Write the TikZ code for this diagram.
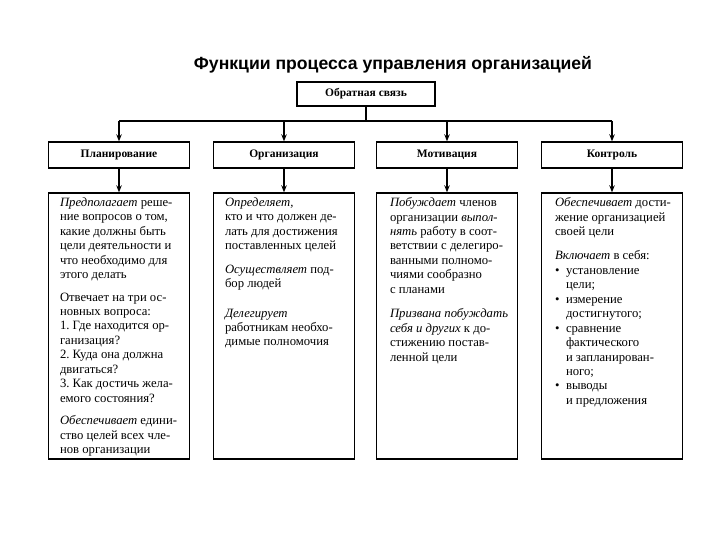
\documentclass[tikz,border=0pt]{standalone}
\usepackage{fontspec}
\setmainfont{Liberation Serif}
\newfontfamily\titlefont{Liberation Sans}
\usetikzlibrary{arrows.meta}
\newcommand{\bul}{\makebox[11pt][l]{\textbullet}}
\newcommand{\ind}{\hspace*{11pt}}
\frenchspacing
\begin{document}
\begin{tikzpicture}[x=1pt,y=-1pt,
  box/.style={draw, line width=1.4pt, inner sep=0pt},
  headbox/.style={box, minimum width=141pt, minimum height=26pt, font=\bfseries\fontsize{11.5}{13}\selectfont},
  bodybox/.style={box, minimum width=141pt, minimum height=266pt},
  txt/.style={anchor=north west, align=left, inner sep=0pt, font=\frenchspacing\fontsize{12.7}{14.45}\selectfont},
  arr/.style={line width=1.1pt, -{Stealth[length=7pt,width=5.5pt]}},
  ln/.style={line width=1.1pt}]
\fill[white] (0,0) rectangle (720,540);
\useasboundingbox (0,0) rectangle (720,540);

\node[anchor=base, inner sep=0pt, font=\titlefont\bfseries\fontsize{17.6}{20}\selectfont] (title) at (393,70) {Функции процесса управления организацией};

\node[box, minimum width=138pt, minimum height=24pt, font=\bfseries\fontsize{11.5}{13}\selectfont] (fb) at (366,94) {Обратная связь};

\node[headbox] (h1) at (119,155) {Планирование};
\node[headbox] (h2) at (284,155) {Организация};
\node[headbox] (h3) at (447,155) {Мотивация};
\node[headbox] (h4) at (612,155) {Контроль};

\node[bodybox] (b1) at (119,326) {};
\node[bodybox] (b2) at (284,326) {};
\node[bodybox] (b3) at (447,326) {};
\node[bodybox] (b4) at (612,326) {};

\coordinate (j) at (366,121);
\draw[ln] (fb.south) -- (j);
\draw[ln] (h1.north |- j) -- (h4.north |- j);
\foreach \i in {1,2,3,4}{
  \draw[arr] (h\i.north |- j) -- (h\i.north);
  \draw[arr] (h\i.south) -- (b\i.north);
}

\node[txt] (t1) at ([shift={(12,5)}]b1.north west) {%
\textit{Предполагает} реше-\\
ние вопросов о том,\\
какие должны быть\\
цели деятельности и\\
что необходимо для\\
этого делать\\[8pt]
Отвечает на три ос-\\
новных вопроса:\\
1. Где находится ор-\\
ганизация?\\
2. Куда она должна\\
двигаться?\\
3. Как достичь жела-\\
емого состояния?\\[8pt]
\textit{Обеспечивает} едини-\\
ство целей всех чле-\\
нов организации};

\node[txt] (t2) at ([shift={(12,5)}]b2.north west) {%
\textit{Определяет,}\\
кто и что должен де-\\
лать для достижения\\
поставленных целей\\[9pt]
\textit{Осуществляет} под-\\
бор людей\\[15pt]
\textit{Делегирует}\\
работникам необхо-\\
димые полномочия};

\node[txt] (t3) at ([shift={(14,5)}]b3.north west) {%
\textit{Побуждает} членов\\
организации \textit{выпол-}\\
\textit{нять} работу в соот-\\
ветствии с делегиро-\\
ванными полномо-\\
чиями сообразно\\
с планами\\[10pt]
\textit{Призвана побуждать}\\
\textit{себя и других} к до-\\
стижению постав-\\
ленной цели};

\node[txt] (t4) at ([shift={(14,5)}]b4.north west) {%
\textit{Обеспечивает} дости-\\
жение организацией\\
своей цели\\[10pt]
\textit{Включает} в себя:\\
\bul установление\\
\ind цели;\\
\bul измерение\\
\ind достигнутого;\\
\bul сравнение\\
\ind фактического\\
\ind и запланирован-\\
\ind ного;\\
\bul выводы\\
\ind и предложения};
\end{tikzpicture}
\end{document}
